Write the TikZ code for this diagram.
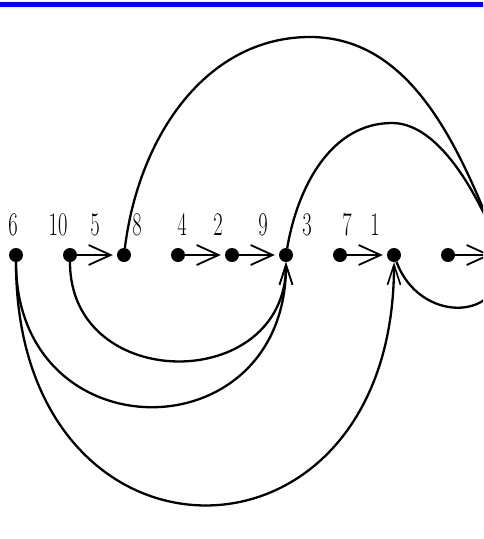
\documentclass[tikz,border=0pt]{standalone}
\usetikzlibrary{arrows.meta}
\begin{document}
\begin{tikzpicture}[x=1pt,y=-1pt,
  dot/.style={circle,fill=black,inner sep=0pt,minimum size=14pt},
  lab/.style={font=\fontsize{33}{35}\selectfont, inner sep=0pt, anchor=base},
  arr/.style={line width=2.8pt,shorten >=4pt,-{Straight Barb[length=22pt,width=20pt,line width=1.8pt]}},
  curve/.style={line width=2.3pt},
  carr/.style={line width=2.3pt,-{Straight Barb[length=20pt,width=13pt,line width=1.6pt]}}]
\useasboundingbox (0,0) rectangle (483,539);
\clip (0,0) rectangle (483,539);
\fill[white] (0,0) rectangle (483,539);
\fill[blue] (0,2) rectangle (483,7);
% nodes
\node[dot] (n6) at (16,255) {};
\node[dot] (n10) at (70,255) {};
\node[dot] (n8) at (124,255) {};
\node[dot] (n4) at (178,255) {};
\node[dot] (n2) at (232,255) {};
\node[dot] (n9) at (286,255) {};
\node[dot] (n7) at (340,255) {};
\node[dot] (n1) at (394,255) {};
\node[dot] (nx) at (448,255) {};
\node[dot] (nr) at (502,255) {};
\coordinate (topA) at (310,37);
\coordinate (topB) at (392,123);
% labels
\node[lab] (l6) at (13,235) {\scalebox{0.62}[1]{6}};
\node[lab] (l10) at (58,235) {\scalebox{0.62}[1]{10}};
\node[lab] (l5) at (95,235) {\scalebox{0.62}[1]{5}};
\node[lab] (l8) at (137,235) {\scalebox{0.62}[1]{8}};
\node[lab] (l4) at (182,235) {\scalebox{0.62}[1]{4}};
\node[lab] (l2) at (218,235) {\scalebox{0.62}[1]{2}};
\node[lab] (l9) at (263,235) {\scalebox{0.62}[1]{9}};
\node[lab] (l3) at (307,235) {\scalebox{0.62}[1]{3}};
\node[lab] (l7) at (347,235) {\scalebox{0.62}[1]{7}};
\node[lab] (l1) at (375,235) {\scalebox{0.62}[1]{1}};
% straight arrows
\draw[arr] (n10) -- (n8);
\draw[arr] (n4) -- (n2);
\draw[arr] (n2) -- (n9);
\draw[arr] (n7) -- (n1);
\draw[arr] (nx) -- (nr);
% upper arcs
\draw[curve] (n8) .. controls +(15,-120) and +(-103,0) .. (topA)
                  .. controls +(105,0) and +(-40,-100) .. (nr);
\draw[curve] (n9) .. controls +(12,-70) and +(-60,0) .. (topB)
                  .. controls +(42,0) and +(-30,-75) .. (nr);
% loop
\draw[curve] (n1) .. controls +(25,68) and +(0,68) .. (nr);
% lower arcs
\draw[carr] (n10) .. controls +(0,139) and +(0,139) .. (n9);
\draw[carr] (n6) .. controls +(0,200) and +(0,200) .. (n9);
\draw[carr] (n6) .. controls +(0,331) and +(0,331) .. (n1);
\end{tikzpicture}
\end{document}
